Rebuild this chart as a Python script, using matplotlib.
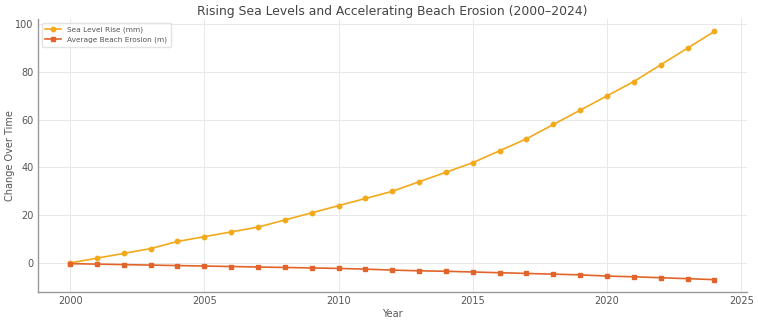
import matplotlib
matplotlib.use("Agg")
import matplotlib.pyplot as plt

years = list(range(2000, 2025))
sea_level = [0, 2, 4, 6, 9, 11, 13, 15, 18, 21, 24, 27, 30, 34, 38, 42, 47, 52, 58, 64, 70, 76, 83, 90, 97]
erosion = [-0.3, -0.5, -0.7, -0.9, -1.1, -1.3, -1.5, -1.7, -1.9, -2.1, -2.3, -2.6, -3.0, -3.3, -3.5,
           -3.8, -4.1, -4.4, -4.7, -5.0, -5.5, -5.8, -6.2, -6.6, -7.0]

txt = "#555555"
fig = plt.figure(figsize=(7.58, 3.22), dpi=100)
ax = fig.add_axes([0.05, 0.093, 0.935, 0.848])
ax.plot(years, sea_level, color="#F2A91A", marker="o", markersize=3.2, linewidth=1.2, label="Sea Level Rise (mm)")
ax.plot(years, erosion, color="#E2642A", marker="s", markersize=3.2, linewidth=1.2, label="Average Beach Erosion (m)")

fig.text(0.5 * (0.05 + 0.985), 1 - 11 / 322, "Rising Sea Levels and Accelerating Beach Erosion (2000\u20132024)",
         fontsize=8.9, color="#444444", ha="center", va="center")
ax.set_xlabel("Year", fontsize=7, color=txt, labelpad=2)
ax.set_ylabel("Change Over Time", fontsize=7, color=txt)
ax.yaxis.set_label_coords(-0.032, 0.5)
ax.set_xticks([2000, 2005, 2010, 2015, 2020, 2025])
ax.set_yticks([0, 20, 40, 60, 80, 100])
ax.tick_params(labelsize=7, colors=txt, length=0, pad=3)
ax.grid(True, color="#e8e8e8", linewidth=0.7)
ax.set_axisbelow(True)
for s in ["top", "right"]:
    ax.spines[s].set_visible(False)
for s in ["left", "bottom"]:
    ax.spines[s].set_color("#999999")
    ax.spines[s].set_linewidth(1.0)
leg = ax.legend(loc="upper left", fontsize=5.3, frameon=True, borderpad=0.5, handlelength=2.2)
leg.get_frame().set_edgecolor("#dddddd")
for t in leg.get_texts():
    t.set_color(txt)
fig.savefig("out.png", dpi=100)
